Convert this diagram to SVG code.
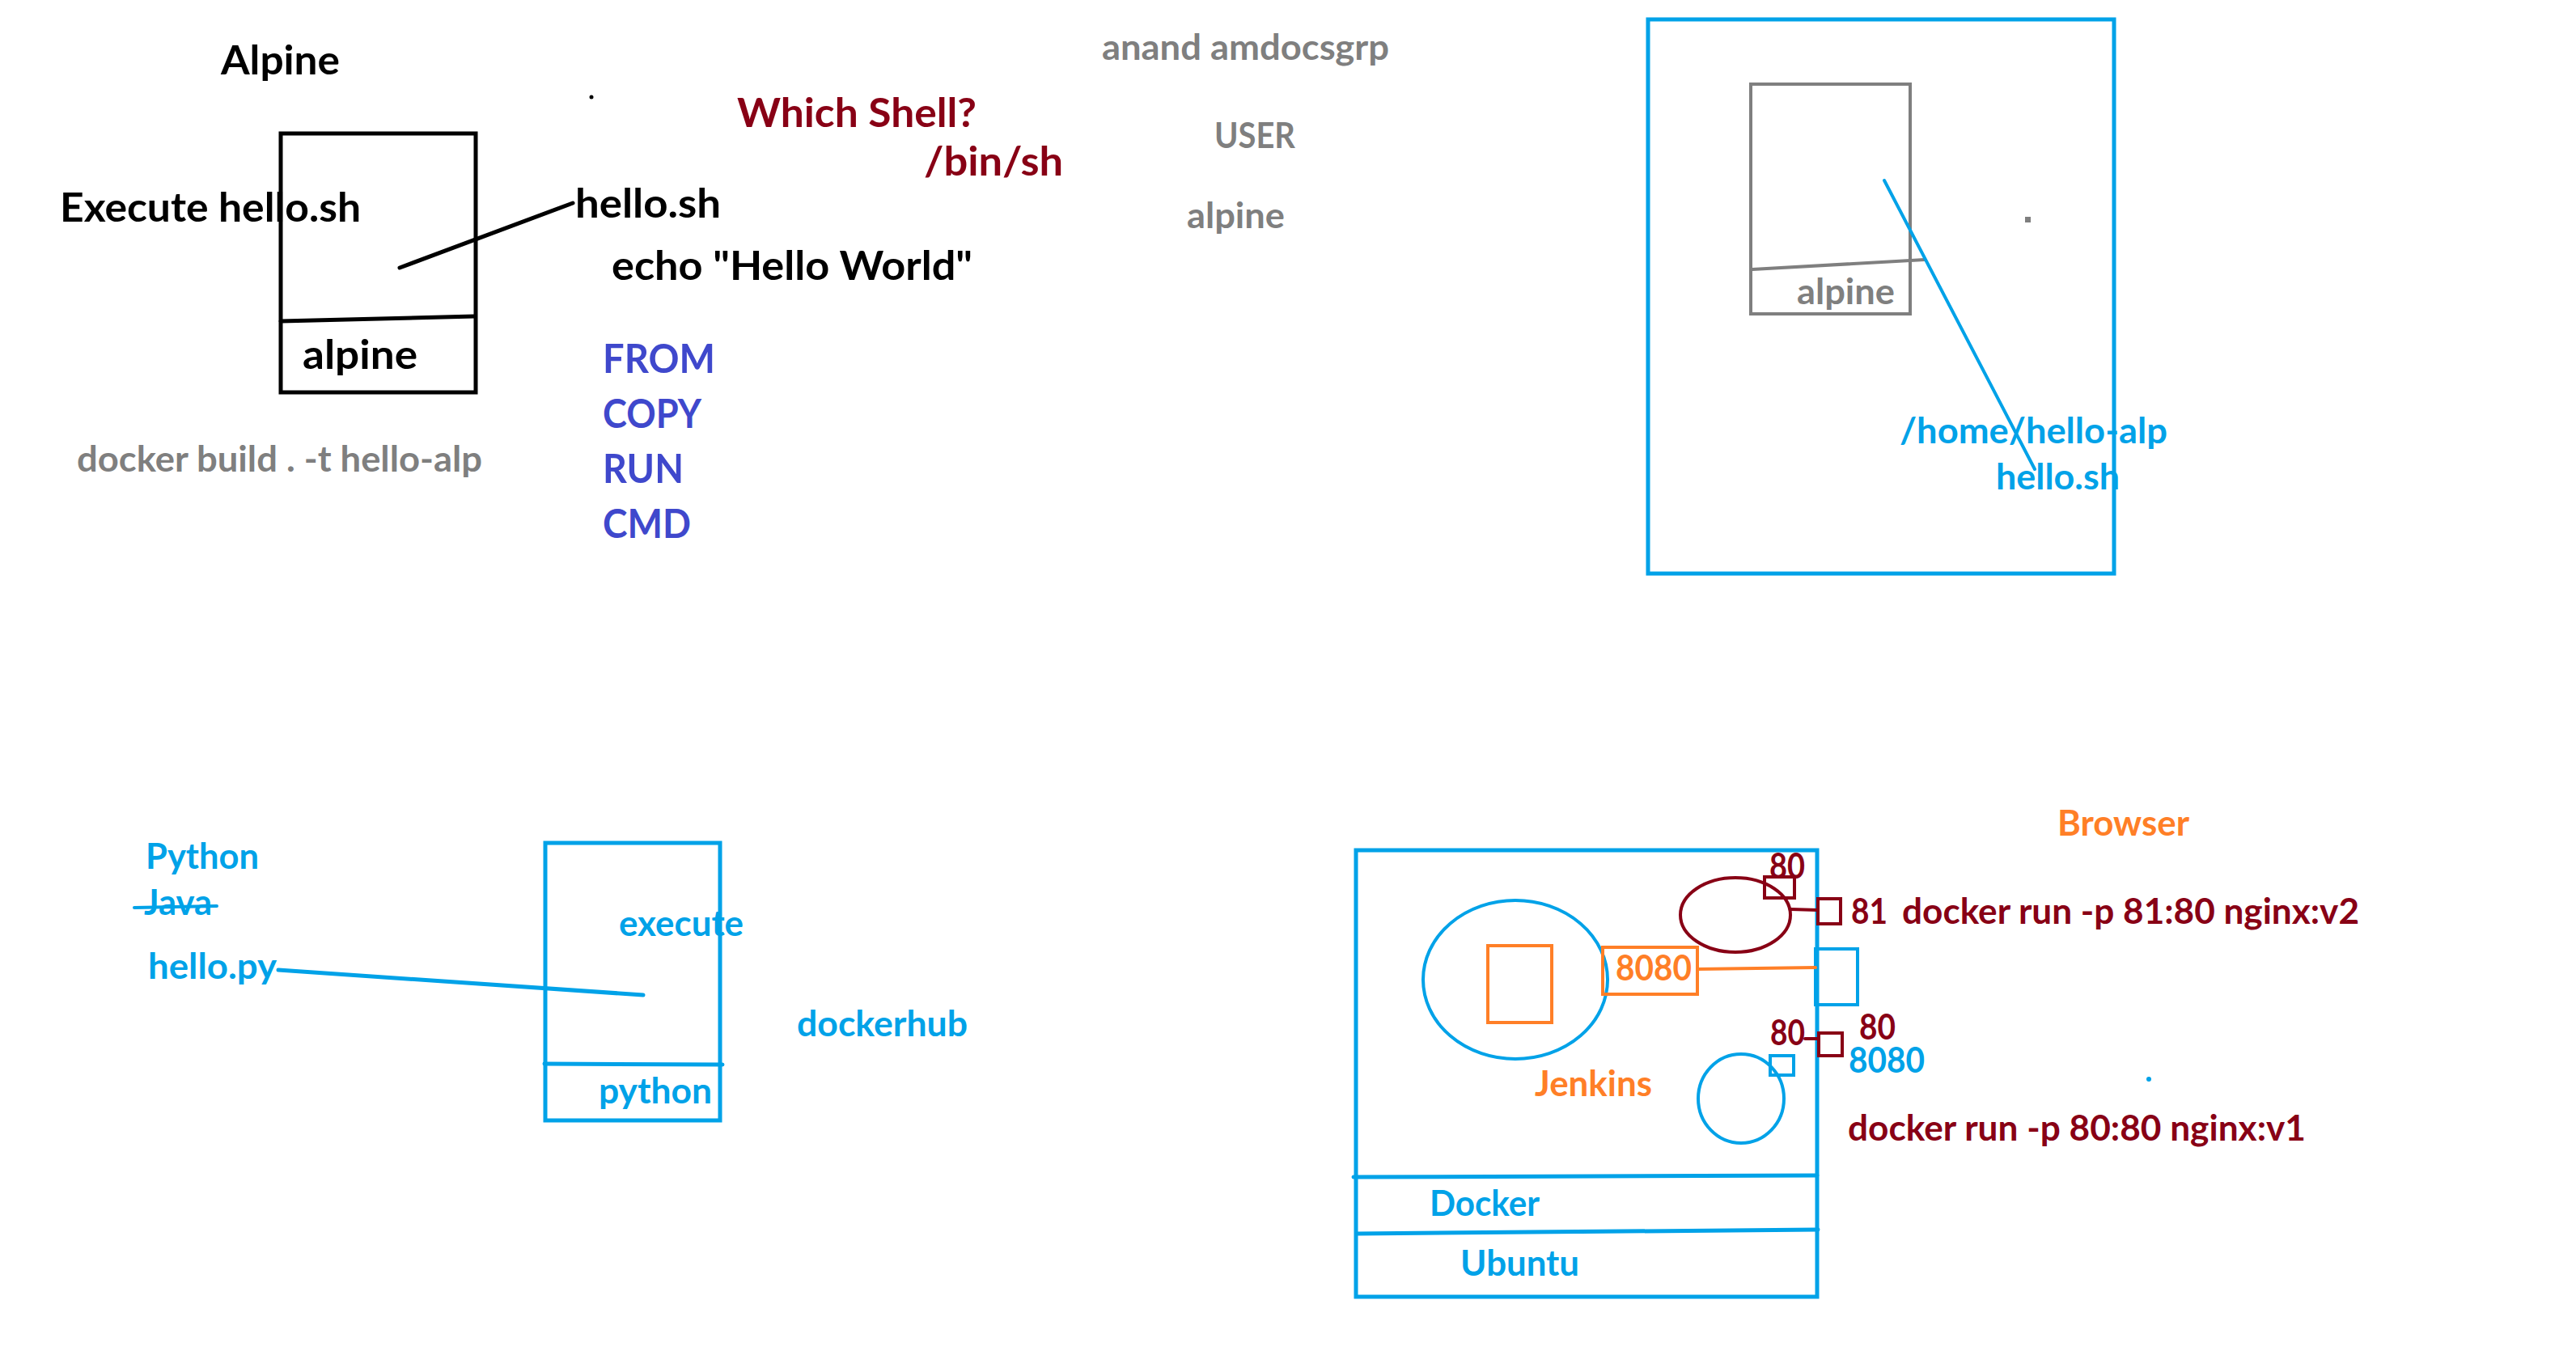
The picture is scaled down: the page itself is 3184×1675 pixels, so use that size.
<svg xmlns="http://www.w3.org/2000/svg" width="3184" height="1675" viewBox="0 0 3184 1675">
<style>
text{font-family:Lato,"Liberation Sans",sans-serif;font-weight:bold}
.L{font-size:50px}
.S{font-size:44px}
.k{fill:#000}
.r{fill:#880015}
.i{fill:#3F48CC}
.g{fill:#7F7F7F}
.b{fill:#00A2E8}
.o{fill:#FF7F27}
.box{fill:none;stroke-width:5}
.thin{fill:none;stroke-width:4}
.sk{stroke:#000}
.sg{stroke:#7F7F7F}
.sb{stroke:#00A2E8}
.so{stroke:#FF7F27}
.sr{stroke:#880015}
line{stroke-linecap:round}
</style>
<rect width="3184" height="1675" fill="#fff"/>

<g id="alpine-title">
<text class="L k" x="273" y="92" textLength="147" lengthAdjust="spacingAndGlyphs">Alpine</text>
</g>
<g id="execute-label">
<text class="L k" x="74" y="274" textLength="372" lengthAdjust="spacingAndGlyphs">Execute hello.sh</text>
</g>
<g id="alpine-image">
<rect class="box sk" x="347" y="165" width="241" height="320"/>
<line class="sk" x1="347" y1="397" x2="586" y2="391" stroke-width="5"/>
<text class="L k" x="374" y="456" textLength="142" lengthAdjust="spacingAndGlyphs">alpine</text>
</g>
<g id="dot-1"><circle cx="731" cy="120" r="2.5" fill="#000"/></g>
<g id="hello-sh">
<text class="L k" x="711" y="269" textLength="180" lengthAdjust="spacingAndGlyphs">hello.sh</text>
<text class="L k" x="756" y="346" textLength="446" lengthAdjust="spacingAndGlyphs">echo "Hello World"</text>
</g>
<g id="shell-question">
<text class="L r" x="911" y="157" textLength="296" lengthAdjust="spacingAndGlyphs">Which Shell?</text>
<text class="L r" x="1142" y="217" textLength="172" lengthAdjust="spacingAndGlyphs">/bin/sh</text>
</g>
<g id="dockerfile-instructions">
<text class="L i" x="745" y="461" textLength="139" lengthAdjust="spacingAndGlyphs">FROM</text>
<text class="L i" x="745" y="529" textLength="122" lengthAdjust="spacingAndGlyphs">COPY</text>
<text class="L i" x="745" y="597" textLength="100" lengthAdjust="spacingAndGlyphs">RUN</text>
<text class="L i" x="745" y="665" textLength="109" lengthAdjust="spacingAndGlyphs">CMD</text>
</g>
<g id="build-command">
<text class="S g" x="95" y="583" textLength="501" lengthAdjust="spacingAndGlyphs">docker build . -t hello-alp</text>
</g>
<g id="user-notes">
<text class="S g" x="1362" y="74" textLength="355" lengthAdjust="spacingAndGlyphs">anand amdocsgrp</text>
<text class="S g" x="1501" y="183" textLength="100" lengthAdjust="spacingAndGlyphs">USER</text>
<text class="S g" x="1467" y="282" textLength="121" lengthAdjust="spacingAndGlyphs">alpine</text>
</g>
<g id="container-host">
<rect class="box sb" x="2037" y="24" width="576" height="685"/>
<rect fill="#7F7F7F" x="2503" y="268" width="7" height="7"/>
<text class="S b" x="2348" y="548" textLength="331" lengthAdjust="spacingAndGlyphs">/home/hello-alp</text>
<text class="S b" x="2467" y="605" textLength="153" lengthAdjust="spacingAndGlyphs">hello.sh</text>
</g>
<g id="container-alpine">
<rect class="thin sg" x="2164" y="104" width="197" height="284"/>
<line class="sg" x1="2166" y1="333" x2="2379" y2="321" stroke-width="4"/>
<text class="S g" x="2221" y="376" textLength="121" lengthAdjust="spacingAndGlyphs">alpine</text>
</g>

<g id="languages">
<text class="S b" x="180" y="1074" textLength="140" lengthAdjust="spacingAndGlyphs">Python</text>
<text class="S b" x="178" y="1131" textLength="84" lengthAdjust="spacingAndGlyphs">Java</text>
<line class="sb" x1="166" y1="1122" x2="268" y2="1120" stroke-width="4"/>
<text class="S b" x="183" y="1210" textLength="159" lengthAdjust="spacingAndGlyphs">hello.py</text>
</g>
<g id="python-image">
<rect class="box sb" x="674" y="1042" width="216" height="343"/>
<line class="sb" x1="673" y1="1315" x2="893" y2="1316" stroke-width="5"/>
<text class="S b" x="765" y="1157" textLength="154" lengthAdjust="spacingAndGlyphs">execute</text>
<text class="S b" x="740" y="1364" textLength="140" lengthAdjust="spacingAndGlyphs">python</text>
</g>
<g id="dockerhub">
<text class="S b" x="985" y="1281" textLength="211" lengthAdjust="spacingAndGlyphs">dockerhub</text>
</g>

<g id="host-machine">
<rect class="box sb" x="1676" y="1051" width="570" height="552"/>
<line class="sb" x1="1673" y1="1455" x2="2246" y2="1453" stroke-width="5"/>
<line class="sb" x1="1678" y1="1525" x2="2247" y2="1520" stroke-width="5"/>
<text class="S b" x="1767" y="1503" textLength="136" lengthAdjust="spacingAndGlyphs">Docker</text>
<text class="S b" x="1805" y="1577" textLength="147" lengthAdjust="spacingAndGlyphs">Ubuntu</text>
</g>
<g id="jenkins-container">
<ellipse class="thin sb" cx="1873" cy="1211" rx="114" ry="98"/>
<rect class="thin so" x="1839" y="1169" width="79" height="95"/>
<rect class="thin so" x="1981" y="1171" width="117" height="58"/>
<text class="S o" x="1997" y="1212" textLength="94" lengthAdjust="spacingAndGlyphs">8080</text>
<text class="S o" x="1897" y="1355" textLength="145" lengthAdjust="spacingAndGlyphs">Jenkins</text>
</g>
<g id="nginx-v2-container">
<ellipse class="thin sr" cx="2145" cy="1131" rx="68" ry="46"/>
<rect class="thin sr" x="2181" y="1084" width="37" height="26"/>
<text class="S r" x="2187" y="1086" textLength="44" lengthAdjust="spacingAndGlyphs">80</text>
</g>
<g id="port-81">
<rect class="thin sr" x="2247" y="1111" width="28" height="31"/>
<text class="S r" x="2288" y="1142" textLength="45" lengthAdjust="spacingAndGlyphs">81</text>
<text class="S r" x="2351" y="1142" textLength="565" lengthAdjust="spacingAndGlyphs">docker run -p 81:80 nginx:v2</text>
</g>
<g id="port-8080">
<rect class="thin sb" x="2244" y="1173" width="52" height="69"/>
</g>
<g id="nginx-v1-container">
<ellipse class="thin sb" cx="2152" cy="1358" rx="53" ry="55"/>
<rect class="thin sb" x="2188" y="1305" width="29" height="24"/>
<text class="S r" x="2188" y="1292" textLength="43" lengthAdjust="spacingAndGlyphs">80</text>
</g>
<g id="port-80">
<rect class="thin sr" x="2248" y="1277" width="29" height="28"/>
<text class="S r" x="2298" y="1285" textLength="45" lengthAdjust="spacingAndGlyphs">80</text>
<text class="S b" x="2285" y="1326" textLength="94" lengthAdjust="spacingAndGlyphs">8080</text>
<text class="S r" x="2284" y="1410" textLength="566" lengthAdjust="spacingAndGlyphs">docker run -p 80:80 nginx:v1</text>
</g>
<g id="browser">
<text class="S o" x="2543" y="1033" textLength="163" lengthAdjust="spacingAndGlyphs">Browser</text>
<circle cx="2656" cy="1334" r="3" fill="#00A2E8"/>
</g>

<g id="connectors">
<line class="sk" x1="494" y1="331" x2="708" y2="251" stroke-width="5"/>
<line class="sb" x1="2329" y1="223" x2="2515" y2="580" stroke-width="4"/>
<line class="sb" x1="344" y1="1199" x2="795" y2="1230" stroke-width="5"/>
<line class="so" x1="2098" y1="1198" x2="2244" y2="1196" stroke-width="4"/>
<line class="sr" x1="2214" y1="1124" x2="2247" y2="1125" stroke-width="4"/>
<line class="sr" x1="2231" y1="1284" x2="2248" y2="1284" stroke-width="4"/>
</g>
</svg>
